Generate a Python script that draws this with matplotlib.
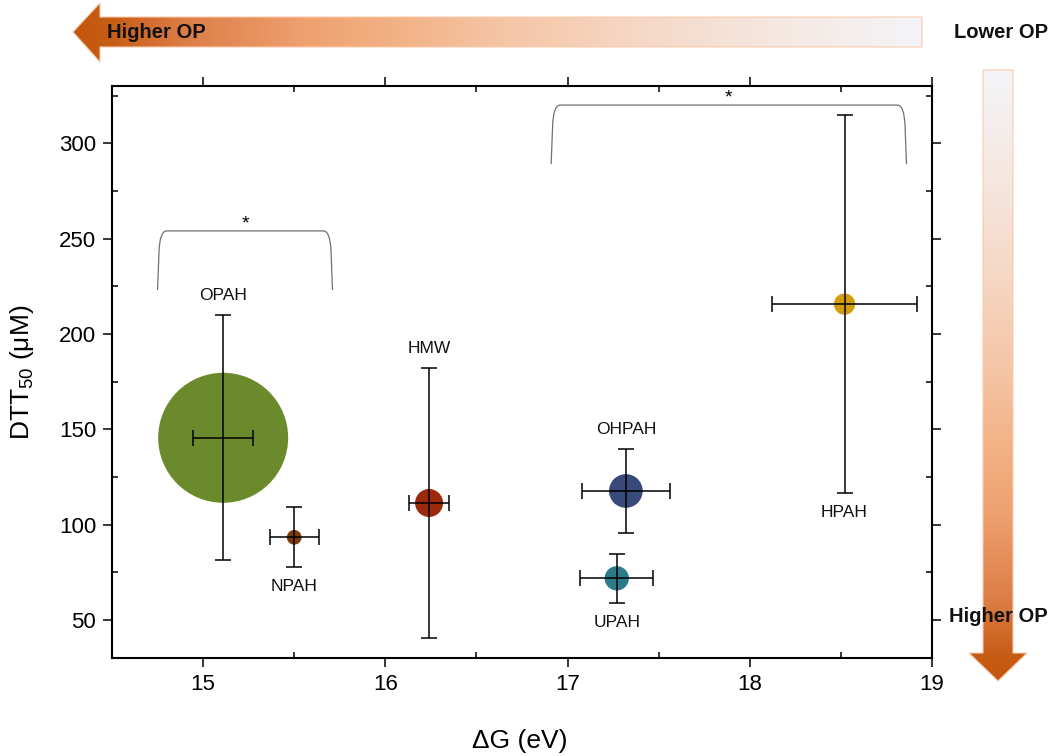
import numpy as np
import matplotlib
matplotlib.use("Agg")
import matplotlib.pyplot as plt
from matplotlib.colors import LinearSegmentedColormap
from matplotlib.patches import Polygon, PathPatch
from matplotlib.path import Path
from matplotlib.ticker import MultipleLocator

plt.rcParams["font.family"] = ["Liberation Sans", "DejaVu Sans"]
plt.rcParams["mathtext.fontset"] = "custom"
plt.rcParams["mathtext.rm"] = "Liberation Sans"
plt.rcParams["mathtext.it"] = "Liberation Sans:italic"

# data
groups = ["OPAH", "NPAH", "HMW", "OHPAH", "UPAH", "HPAH"]
dG = [15.11, 15.50, 16.24, 17.32, 17.27, 18.52]
dG_err = [0.165, 0.135, 0.11, 0.24, 0.20, 0.40]
dtt50 = [145.5, 93.3, 111.3, 117.6, 71.8, 215.6]
dtt50_err = [64.2, 15.8, 71.0, 22.0, 12.8, 99.0]
bubble = [130, 14.7, 28, 33.7, 24.3, 21.3]  # bubble diameter, px
colors = ["#6b8a2b", "#7b3a08", "#9b2a0a", "#394a7a", "#2c7b8a", "#d39e0b"]
label_side = [1, -1, 1, 1, -1, -1]  # label above (+1) / below (-1) the bar

# significance brackets: x_left, x_right, y_leg, y_top
brackets = [(14.75, 15.71, 223, 254), (16.91, 18.86, 289, 320)]

xticks = [15, 16, 17, 18, 19]
yticks = [50, 100, 150, 200, 250, 300]

W, H = 1050, 756
fig = plt.figure(figsize=(W / 100, H / 100), dpi=100)
ax = fig.add_axes([112 / W, 1 - 658 / H, 820 / W, 572 / H])

sizes = [(d * 0.72) ** 2 for d in bubble]
ax.scatter(dG, dtt50, s=sizes, c=colors, edgecolors="none", zorder=2)
ax.errorbar(dG, dtt50, xerr=dG_err, yerr=dtt50_err, fmt="none", ecolor="black",
            elinewidth=1.1, capsize=5.8, capthick=1.1, zorder=3)

for g, x, y, e, side in zip(groups, dG, dtt50, dtt50_err, label_side):
    ax.annotate(g, xy=(x, y + side * e), xytext=(0, side * 14), textcoords="offset points",
                ha="center", va="center", fontsize=12.5, color="#111111")

# brackets with stars
for x0, x1, yb, yt in brackets:
    h = yt - yb
    verts = [(x0, yb), (x0 + 0.008, yt - 0.35 * h), (x0 + 0.012, yt), (x0 + 0.05, yt),
             (x1 - 0.05, yt), (x1 - 0.012, yt), (x1 - 0.008, yt - 0.35 * h), (x1, yb)]
    codes = [Path.MOVETO, Path.LINETO, Path.CURVE3, Path.CURVE3,
             Path.LINETO, Path.CURVE3, Path.CURVE3, Path.LINETO]
    ax.add_patch(PathPatch(Path(verts, codes), facecolor="none", edgecolor="#707070",
                           lw=0.9, zorder=2))
    ax.text((x0 + x1) / 2, yt + 1.5, "*", ha="center", va="baseline", fontsize=14)

ax.set_xlim(14.5, 19)
ax.set_ylim(30, 330)
ax.set_xticks(xticks)
ax.set_yticks(yticks)
ax.xaxis.set_minor_locator(MultipleLocator(0.5))
ax.yaxis.set_minor_locator(MultipleLocator(25))
ax.tick_params(which="major", direction="out", length=6.5, width=1.1,
               top=True, right=True, labelsize=16, pad=5)
ax.tick_params(which="minor", direction="in", length=4.5, width=1.1, top=True, right=True)
for sp in ax.spines.values():
    sp.set_linewidth(1.5)

fig.text(520 / W, 1 - 741 / H, "ΔG (eV)", ha="center", va="center", fontsize=19)
fig.text(22 / W, 1 - 372 / H, "DTT$_{50}$ (μM)", ha="center", va="center",
         rotation=90, fontsize=19)

# gradient arrows in pixel coordinates
ov = fig.add_axes([0, 0, 1, 1])
ov.set_xlim(0, W)
ov.set_ylim(H, 0)
ov.axis("off")
ov.patch.set_alpha(0)

op_cmap = LinearSegmentedColormap.from_list("op", [
    (0.0, "#c4570f"), (0.04, "#c75c15"), (0.13, "#dc7d45"), (0.27, "#eea06f"),
    (0.39, "#f2b387"), (0.50, "#f5c4a4"), (0.68, "#f6d9c8"), (0.86, "#f5eae5"),
    (1.0, "#f3f4f8")])

top_arrow = Polygon([(73, 32), (100, 3), (100, 17), (922, 17), (922, 47), (100, 47), (100, 62)],
                    closed=True, facecolor="none", edgecolor="#f8cbad", lw=0.8)
ov.add_patch(top_arrow)
im = ov.imshow(np.linspace(0, 1, 512).reshape(1, -1), extent=[73, 922, 62, 3],
               cmap=op_cmap, aspect="auto", interpolation="bilinear")
im.set_clip_path(top_arrow)

side_arrow = Polygon([(983, 70), (1013, 70), (1013, 653), (1027, 653), (998, 681), (969, 653),
                      (983, 653)], closed=True, facecolor="none", edgecolor="#f8cbad", lw=0.8)
ov.add_patch(side_arrow)
im2 = ov.imshow(np.linspace(1, 0, 512).reshape(-1, 1), extent=[969, 1027, 681, 70],
                cmap=op_cmap, aspect="auto", interpolation="bilinear", origin="upper")
im2.set_clip_path(side_arrow)
ov.set_xlim(0, W)
ov.set_ylim(H, 0)

ov.text(107, 33, "Higher OP", ha="left", va="center", fontsize=14.5, fontweight="bold",
        color="#111111")
ov.text(1048, 33, "Lower OP", ha="right", va="center", fontsize=14.5, fontweight="bold",
        color="#111111")
ov.text(1048, 616, "Higher OP", ha="right", va="center", fontsize=14.5, fontweight="bold",
        color="#111111")

fig.savefig("out.png", dpi=100)
